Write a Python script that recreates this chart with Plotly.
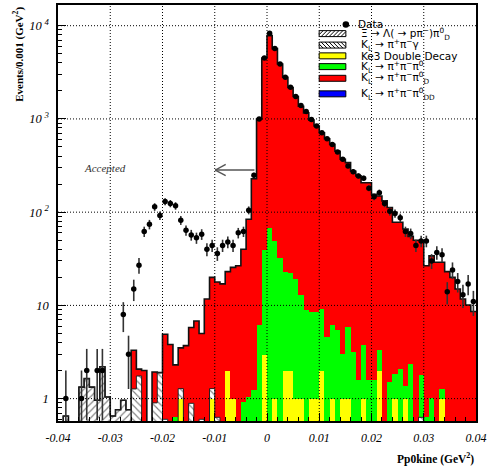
import numpy as np
import plotly.graph_objects as go

# ---------------- data (80 bins of 0.001 GeV^2 from -0.04 to 0.04) ----------------
BIN_LO = -0.04
BIN_W = 0.001
N_BINS = 80

data_counts = [0, 1, 0, 0, 1, 2, 0, 2, 2, 0,
               0, 0, 8, 3, 15, 27, 62, 74, 114, 92,
               130, 124, 117, 82, 64, 57, 53, 58, 40, 44,
               36, 44, 48, 44, 60, 62, 105, 249, 1000, 4500,
               8320, 5680, 3880, 2800, 2190, 1740, 1390, 1200, 988, 838,
               710, 612, 533, 441, 369, 313, 272, 245, 231, 181,
               146, 162, 124, 102, 97, 87, 62, 59, 44, 49,
               49, 30, 37, 35, 14, 24, 18, 13, 17, 11]

# stacked MC, cumulative heights as drawn (red = total of the stack)
red_total = [0, 0.65, 0.55, 0, 1.33, 1.64, 1.33, 0.96, 2.2, 1.04,
             0.65, 0.76, 0.96, 0.76, 3.3, 2.07, 2.0, 0, 1.93, 1.9,
             4.9, 3.8, 2.3, 3.5, 3.7, 5.8, 6.8, 5.0, 11.7, 20,
             17.8, 17, 23, 25.6, 26.6, 40, 84, 228, 1000, 4500,
             7820, 5680, 3880, 2800, 2170, 1740, 1370, 1160, 970, 840,
             710, 612, 533, 450, 369, 340, 275, 245, 207, 207,
             155, 149, 132, 112, 78, 78, 66, 55, 50, 50,
             26.6, 34, 29, 29, 23, 20, 15, 11.7, 10.1, 8.6]

green_kpp0 = [0, 0, 0, 0, 0, 0, 0, 0, 0, 0,
              0, 0, 0, 0, 0, 0, 0, 0, 0, 0,
              0, 0, 0.63, 0, 0, 0, 0, 0, 0, 0,
              0, 0, 0, 0, 0, 0.92, 1.04, 1.23, 6.2, 39.5,
              67, 49, 32, 23, 22, 19.2, 13, 8.95, 8.6, 8.4,
              9.15, 4.55, 6.2, 5.5, 3.0, 5.8, 3.2, 1.6, 3.8, 1.6,
              1.6, 3.36, 0.56, 1.5, 1.85, 2.1, 1.36, 2.35, 0, 1.8,
              0.64, 1.02, 0, 1.28, 0, 0.57, 0.57, 0, 0, 0]

xi_hatch = [0, 0.65, 0.55, 0, 1.33, 1.64, 1.33, 0.96, 2.2, 1.04,
            0.65, 0.76, 0.96, 0.76, 0, 0, 0, 0, 0, 0,
            0, 0, 0, 0, 0, 0, 0, 0, 0, 0,
            0, 0, 0, 0, 0, 0, 0, 0, 0, 0,
            0, 0, 0, 0, 0, 0, 0, 0, 0, 0,
            0, 0, 0, 0, 0, 0, 0, 0, 0, 0,
            0, 0, 0, 0, 0, 0, 0, 0, 0, 0,
            0, 0, 0, 0, 0, 0, 0, 0, 0, 0]

kppg_hatch = [0, 0, 0, 0, 0, 0, 0, 0, 0, 0,
              0, 0, 0, 0, 1.27, 1.75, 0, 0, 0.9, 1.9,
              0.6, 0, 0, 1.28, 0, 0.89, 0, 0.6, 0, 1.28,
              0.63, 0, 0, 0, 0, 0, 0, 0, 0, 0,
              0, 0, 0, 0, 0, 0, 0, 0, 0, 0,
              0, 0, 0, 0, 0, 0, 0, 0, 0, 0,
              0, 0, 0, 0, 0, 0, 0, 0, 0, 0.63,
              0, 0, 0, 0, 0, 0, 0, 0, 0, 0]

yellow_ke3 = [0, 0, 0, 0, 0, 0, 0, 0, 0, 0,
              0, 0, 0, 0, 0, 0, 0, 0, 0, 0,
              0, 0, 0, 1, 0, 0, 0, 0, 0, 1,
              0, 0, 2, 1, 0, 0, 0, 0, 0, 2.95,
              0, 1, 0, 2, 2, 1, 1, 0, 1, 1,
              2, 0, 1, 0, 1, 1, 0, 0, 1, 0,
              0, 2, 0, 0, 1, 0, 1, 0, 0, 0,
              0, 0, 0, 1, 0, 0, 0, 0, 0, 0]

x_tick_vals = [-0.04, -0.03, -0.02, -0.01, 0, 0.01, 0.02, 0.03, 0.04]
x_tick_text = ["-0.04", "-0.03", "-0.02", "-0.01", "0", "0.01", "0.02", "0.03", "0.04"]
y_tick_vals = [1, 10, 100, 1000, 10000]
y_tick_text = ["1", "10", "10\u2009<sup>2</sup>", "10\u2009<sup>3</sup>", "10\u2009<sup>4</sup>"]

NB = "\u00a0"
ARR = NB + "\u2192" + NB
legend_labels = [
    "\u039e" + ARR + "\u039b(" + ARR + "p\u03c0<sup>\u2212</sup>)\u03c0<sup>0</sup><sub>D</sub>",
    "K<sub>L</sub>" + ARR + "\u03c0<sup>+</sup>\u03c0<sup>\u2212</sup>\u03b3",
    "Ke3 Double Decay",
    "K<sub>L</sub>" + ARR + "\u03c0<sup>+</sup>\u03c0<sup>\u2212</sup>\u03c0<sup>0</sup>",
    "K<sub>L</sub>" + ARR + "\u03c0<sup>+</sup>\u03c0<sup>\u2212</sup>\u03c0<sup>0</sup><sub>D</sub>",
    "K<sub>L</sub>" + ARR + "\u03c0<sup>+</sup>\u03c0<sup>\u2212</sup>\u03c0<sup>0</sup><sub>DD</sub>",
]

# ---------------- layout geometry ----------------
W, H = 490, 467
ML, MR, MT, MB = 58, 9, 3.5, 46.3
PW = W - ML - MR
PH = H - MT - MB
Y_RANGE = [-0.24, 4.222]

RED = "#ff0000"
GREEN = "#00ff00"
YELLOW = "#ffff00"
BLUE = "#0000ff"


def pxx(px):
    return (px - ML) / PW


def pxy(py):
    return (H - MB - py) / PH


def val2paper(v):
    return (np.log10(v) - Y_RANGE[0]) / (Y_RANGE[1] - Y_RANGE[0])


edges = BIN_LO + BIN_W * np.arange(N_BINS + 1)
centers = edges[:-1] + BIN_W / 2


def nz(a):
    return [v if v > 0 else None for v in a]


def step(a):
    a = [v if v > 0 else 1e-3 for v in a]
    return list(edges), a + [a[-1]]


fig = go.Figure()

# filled stacks (drawn from top of stack downwards)
fig.add_trace(go.Bar(x=centers, y=nz(red_total), width=BIN_W,
                     marker=dict(color=RED, line=dict(width=0))))
fig.add_trace(go.Bar(x=centers, y=nz(green_kpp0), width=BIN_W,
                     marker=dict(color=GREEN, line=dict(width=0))))
fig.add_trace(go.Bar(x=centers, y=nz(xi_hatch), width=BIN_W,
                     marker=dict(color="white", line=dict(width=0),
                                 pattern=dict(shape="/", fgcolor="black", bgcolor="white",
                                              size=5, solidity=0.22))))
fig.add_trace(go.Bar(x=centers, y=nz(kppg_hatch), width=BIN_W,
                     marker=dict(color="white", line=dict(width=0),
                                 pattern=dict(shape="\\", fgcolor="black", bgcolor="white",
                                              size=5, solidity=0.22))))
fig.add_trace(go.Bar(x=centers, y=nz(yellow_ke3), width=BIN_W,
                     marker=dict(color=YELLOW, line=dict(width=0))))

# outlines
for arr, w, c in [(red_total, 1.6, "#111111"), (xi_hatch, 1.0, "#222222"),
                  (kppg_hatch, 1.0, "#222222")]:
    sx, sy = step(arr)
    fig.add_trace(go.Scatter(x=sx, y=sy, mode="lines", line=dict(color=c, width=w, shape="hv"),
                             hoverinfo="skip"))

# data points
dc = np.array(data_counts, dtype=float)
mask = dc > 0
err = np.sqrt(dc[mask])
fig.add_trace(go.Scatter(x=centers[mask], y=dc[mask], mode="markers",
                         marker=dict(color="black", size=5.5),
                         error_y=dict(type="data", array=err, arrayminus=err, width=0,
                                      color="#333333", thickness=1.6)))

shapes = []
# grid lines (above the fills, dotted)
grid_line = dict(color="black", width=1, dash="1px,2px")
for xv in [-0.03, -0.02, -0.01, 0.0, 0.01, 0.02, 0.03]:
    shapes.append(dict(type="line", xref="x", yref="paper", x0=xv, x1=xv, y0=0, y1=1,
                       line=grid_line, layer="above"))
for yv in y_tick_vals:
    shapes.append(dict(type="line", xref="paper", yref="paper", x0=0, x1=1,
                       y0=val2paper(yv), y1=val2paper(yv), line=grid_line, layer="above"))

# "Accepted" arrow
ay = val2paper(283)
arrow_col = "#555555"
shapes.append(dict(type="line", xref="x", yref="paper", x0=-0.0024, x1=-0.0099, y0=ay, y1=ay,
                   line=dict(color=arrow_col, width=1.4), layer="above"))
shapes.append(dict(type="line", xref="x", yref="paper", x0=-0.0099, x1=-0.0079, y0=ay,
                   y1=val2paper(325), line=dict(color=arrow_col, width=1.4), layer="above"))
shapes.append(dict(type="line", xref="x", yref="paper", x0=-0.0099, x1=-0.0079, y0=ay,
                   y1=val2paper(247), line=dict(color=arrow_col, width=1.4), layer="above"))

# legend
SW_X0, SW_X1 = 322.3, 349.3
row_y = [32.2, 43.7, 54.5, 65.3, 77.0, 92.6]
row_fill = ["white", "white", YELLOW, GREEN, RED, BLUE]
row_hatch = ["/", "\\", None, None, None, None]
half_h = 3.0


def hatch_path(x0, x1, y0, y1, kind, spacing=4.0):
    h = y1 - y0
    segs = []
    x = x0 - h
    while x < x1:
        s0 = max(0.0, x0 - x)
        s1 = min(h, x1 - x)
        if s1 > s0:
            if kind == "/":
                ax_, ay_ = x + s0, y1 - s0
                bx_, by_ = x + s1, y1 - s1
            else:
                ax_, ay_ = x + s0, y0 + s0
                bx_, by_ = x + s1, y0 + s1
            segs.append("M {:.5f} {:.5f} L {:.5f} {:.5f}".format(pxx(ax_), pxy(ay_), pxx(bx_), pxy(by_)))
        x += spacing
    return " ".join(segs)


annotations = []
for i, yc in enumerate(row_y):
    y0, y1 = yc - half_h, yc + half_h
    shapes.append(dict(type="rect", xref="paper", yref="paper",
                       x0=pxx(SW_X0), x1=pxx(SW_X1), y0=pxy(y1), y1=pxy(y0),
                       fillcolor=row_fill[i], line=dict(color="black", width=1), layer="above"))
    if row_hatch[i]:
        shapes.append(dict(type="path", xref="paper", yref="paper",
                           path=hatch_path(SW_X0, SW_X1, y0, y1, row_hatch[i]),
                           line=dict(color="black", width=1), layer="above"))
    annotations.append(dict(xref="paper", yref="paper", x=pxx(363), y=pxy(yc),
                            xanchor="left", yanchor="middle", showarrow=False,
                            text=legend_labels[i],
                            font=dict(family="DejaVu Sans", size=10.5, color="black")))

# data legend entry
shapes.append(dict(type="circle", xref="paper", yref="paper",
                   x0=pxx(346), x1=pxx(352.6), y0=pxy(26.3), y1=pxy(19.7),
                   fillcolor="black", line=dict(color="black", width=0), layer="above"))
annotations.append(dict(xref="paper", yref="paper", x=pxx(360), y=pxy(23),
                        xanchor="left", yanchor="middle", showarrow=False, text="Data",
                        font=dict(family="DejaVu Sans", size=10.5, color="black")))

# Accepted text
annotations.append(dict(xref="x", yref="paper", x=-0.0311, y=pxy(167), showarrow=False,
                        text="<i>Accepted</i>", xanchor="center", yanchor="middle",
                        font=dict(family="Liberation Serif", size=11, color="#333333")))

# axis titles
annotations.append(dict(xref="paper", yref="paper", x=1.0, y=pxy(458), xanchor="right",
                        yanchor="middle", showarrow=False,
                        text="<b>Pp0kine (GeV<sup>2</sup>)</b>",
                        font=dict(family="Liberation Serif", size=11.5, color="black")))
annotations.append(dict(xref="paper", yref="paper", x=pxx(18), y=pxy(53), xanchor="center",
                        yanchor="middle", showarrow=False, textangle=-90,
                        text="<b>Events/0.001 (GeV<sup>2</sup>)</b>",
                        font=dict(family="Liberation Serif", size=11, color="black")))

minor_y = []
for d in [0.1, 1, 10, 100, 1000, 10000]:
    for k in range(2, 10):
        minor_y.append(k * d)

fig.update_layout(
    width=W, height=H,
    margin=dict(l=ML, r=MR, t=MT, b=MB, pad=0),
    paper_bgcolor="white", plot_bgcolor="white",
    barmode="overlay", bargap=0,
    showlegend=False,
    shapes=shapes,
    annotations=annotations,
    xaxis=dict(range=[-0.04, 0.04], tickvals=x_tick_vals,
               ticktext=["<i>%s</i>" % t for t in x_tick_text],
               tickfont=dict(family="Liberation Serif", size=12, color="black", style="italic"),
               ticks="inside", ticklen=8, tickcolor="black", tickwidth=1,
               ticklabelstandoff=5, ticklabeloverflow="allow",
               minor=dict(ticks="inside", ticklen=4, tick0=-0.04, dtick=0.002,
                          tickcolor="black", showgrid=False),
               showline=True, linecolor="black", linewidth=1.5, mirror=True,
               showgrid=False, zeroline=False, layer="above traces"),
    yaxis=dict(type="log", range=Y_RANGE, tickvals=y_tick_vals,
               ticktext=["<i>%s</i>" % t for t in y_tick_text],
               tickfont=dict(family="Liberation Serif", size=12.5, color="black", style="italic"),
               ticks="inside", ticklen=8, tickcolor="black", tickwidth=1,
               ticklabelstandoff=5,
               minor=dict(ticks="inside", ticklen=4, tickvals=minor_y,
                          tickcolor="black", showgrid=False),
               showline=True, linecolor="black", linewidth=1.5, mirror=True,
               showgrid=False, zeroline=False, layer="above traces"),
)

fig.write_html("out.html", config={"displayModeBar": False},
               post_script="document.body.style.margin='0';")
